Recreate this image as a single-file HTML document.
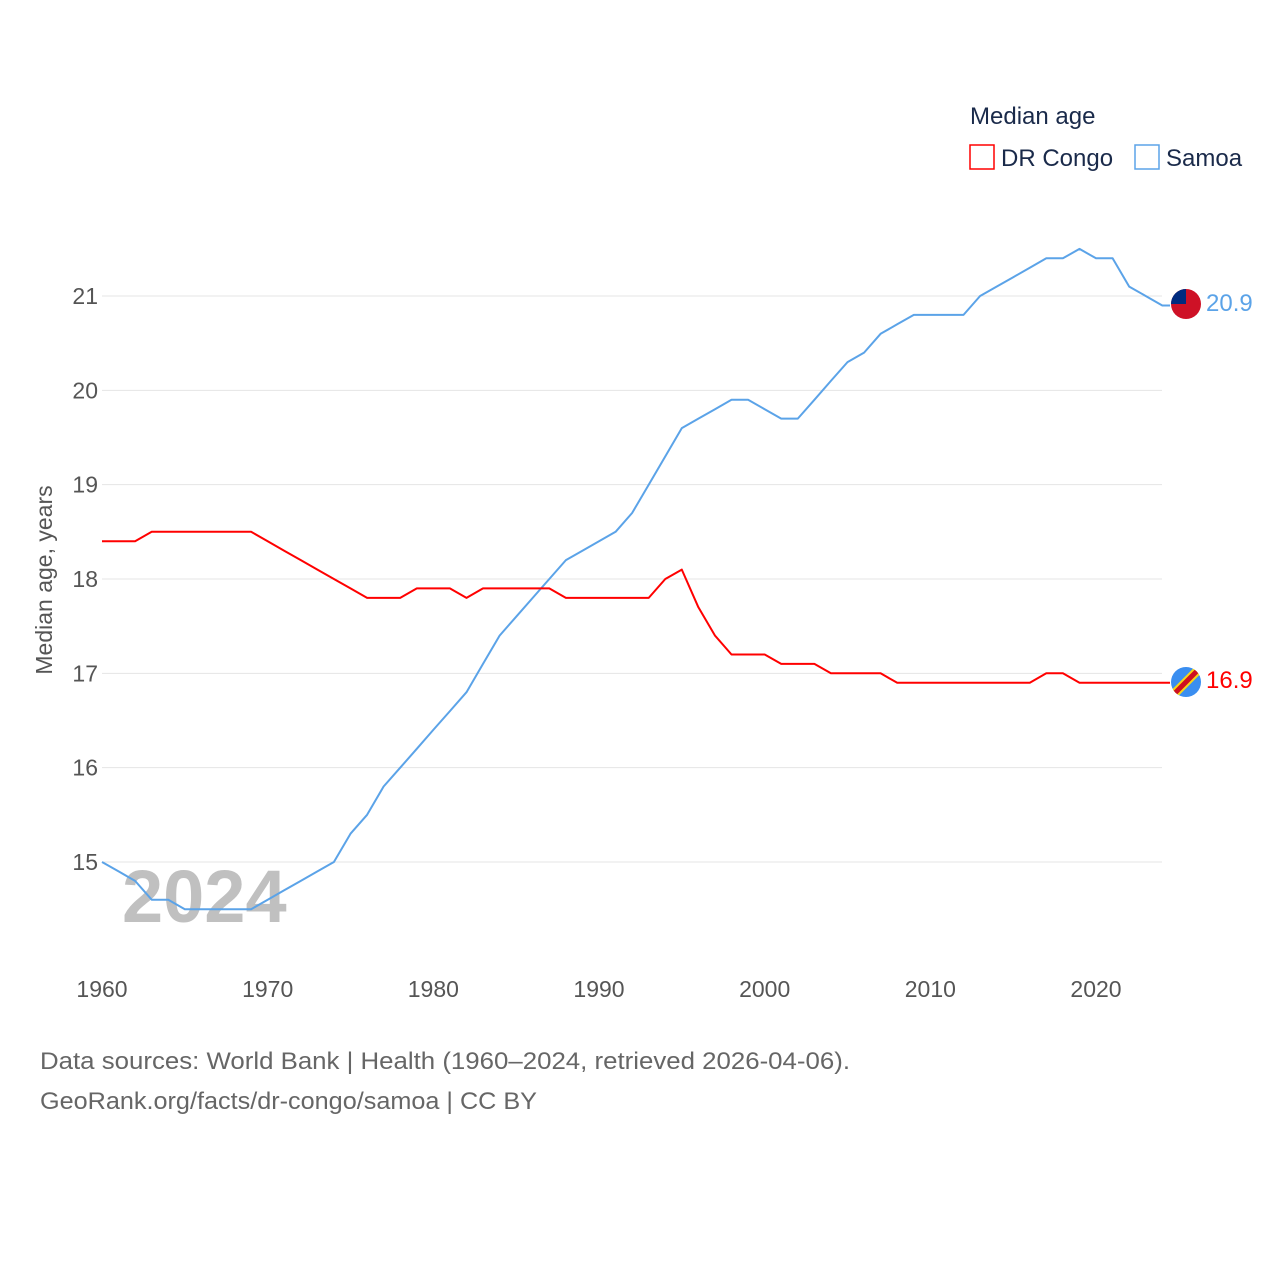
<!DOCTYPE html>
<html><head><meta charset="utf-8"><style>
body{margin:0;background:#fff;font-family:"Liberation Sans",sans-serif;}
</style></head><body>
<svg width="1280" height="1280" viewBox="0 0 1280 1280" xmlns="http://www.w3.org/2000/svg">
<g id="grid"></g>
<g id="yticks"></g>
<g id="xticks"></g>
<text x="122" y="922" font-size="74" font-weight="bold" fill="#c0c0c0">2024</text>
<text transform="translate(52,580) rotate(-90)" text-anchor="middle" font-size="23" fill="#555">Median age, years</text>
<g id="series"></g>
<text x="970" y="124" font-size="24" fill="#1a2a4a">Median age</text>
<g><rect x="970" y="145" width="24" height="24" fill="none" stroke="#f00" stroke-width="1.5"/><text x="1001" y="166" font-size="24" fill="#1a2a4a">DR Congo</text></g>
<g><rect x="1135" y="145" width="24" height="24" fill="none" stroke="#5ba3e8" stroke-width="1.5"/><text x="1166" y="166" font-size="24" fill="#1a2a4a">Samoa</text></g>
<g><circle cx="1186" cy="304" r="15" fill="#ce1126"/><path d="M1171,304 A15,15 0 0 1 1186,289 L1186,304 Z" fill="#002b7f"/></g>
<g><clipPath id="cf"><circle cx="1186" cy="682" r="15"/></clipPath><g clip-path="url(#cf)"><rect x="1170" y="666" width="32" height="32" fill="#3a8ef0"/><line x1="1168" y1="700" x2="1204" y2="664" stroke="#f7d618" stroke-width="9"/><line x1="1168" y1="700" x2="1204" y2="664" stroke="#ce1021" stroke-width="5"/></g></g>
<text x="1206" y="311" font-size="24" fill="#5ba3e8">20.9</text>
<text x="1206" y="688" font-size="24" fill="#f00">16.9</text>
<text x="40" y="1069" font-size="24" fill="#666" textLength="810" lengthAdjust="spacingAndGlyphs">Data sources: World Bank | Health (1960–2024, retrieved 2026-04-06).</text>
<text x="40" y="1109" font-size="24" fill="#666" textLength="497" lengthAdjust="spacingAndGlyphs">GeoRank.org/facts/dr-congo/samoa | CC BY</text>
</svg>
<script>
const years=[];for(let y=1960;y<=2024;y++)years.push(y);
const samoa=[15.0,14.9,14.8,14.6,14.6,14.5,14.5,14.5,14.5,14.5,14.6,14.7,14.8,14.9,15.0,15.3,15.5,15.8,16.0,16.2,16.4,16.6,16.8,17.1,17.4,17.6,17.8,18.0,18.2,18.3,18.4,18.5,18.7,19.0,19.3,19.6,19.7,19.8,19.9,19.9,19.8,19.7,19.7,19.9,20.1,20.3,20.4,20.6,20.7,20.8,20.8,20.8,20.8,21.0,21.1,21.2,21.3,21.4,21.4,21.5,21.4,21.4,21.1,21.0,20.9];
const congo=[18.4,18.4,18.4,18.5,18.5,18.5,18.5,18.5,18.5,18.5,18.4,18.3,18.2,18.1,18.0,17.9,17.8,17.8,17.8,17.9,17.9,17.9,17.8,17.9,17.9,17.9,17.9,17.9,17.8,17.8,17.8,17.8,17.8,17.8,18.0,18.1,17.7,17.4,17.2,17.2,17.2,17.1,17.1,17.1,17.0,17.0,17.0,17.0,16.9,16.9,16.9,16.9,16.9,16.9,16.9,16.9,16.9,17.0,17.0,16.9,16.9,16.9,16.9,16.9,16.9];
const yTicks=[15,16,17,18,19,20,21];
const xTicks=[1960,1970,1980,1990,2000,2010,2020];
const NS="http://www.w3.org/2000/svg";
const X=y=>102+(y-1960)*16.567;
const Y=v=>862-(v-15)*94.33;
function mk(tag,attrs,parent,text){const e=document.createElementNS(NS,tag);for(const k in attrs)e.setAttribute(k,attrs[k]);if(text!=null)e.textContent=text;parent.appendChild(e);return e;}
const grid=document.getElementById('grid'),yt=document.getElementById('yticks'),xt=document.getElementById('xticks'),ser=document.getElementById('series');
yTicks.forEach(v=>{
 const l=mk('line',{x1:102,x2:1162,y1:Y(v),y2:Y(v),stroke:'#e4e4e4','stroke-width':1},grid);
 
 
 const t=mk('text',{x:98,y:Y(v)+8,'text-anchor':'end','font-size':23,fill:'#555'},yt,String(v));
 
 
});
xTicks.forEach(v=>{
 const t=mk('text',{x:X(v),y:997,'text-anchor':'middle','font-size':23,fill:'#555'},xt,String(v));
 
 
});
function line(data,color,name){
 const d=data.map((v,i)=>(i?'L':'M')+X(years[i]).toFixed(1)+','+Y(v).toFixed(1)).join(' ')+' L1170,'+Y(data[data.length-1]).toFixed(1);
 const p=mk('path',{d:d,fill:'none',stroke:color,'stroke-width':2,'stroke-linejoin':'round'},ser);
 
 
}
line(samoa,'#5ba3e8','samoa-line');
line(congo,'#ff0000','dr-congo-line');
</script>
</body></html>
